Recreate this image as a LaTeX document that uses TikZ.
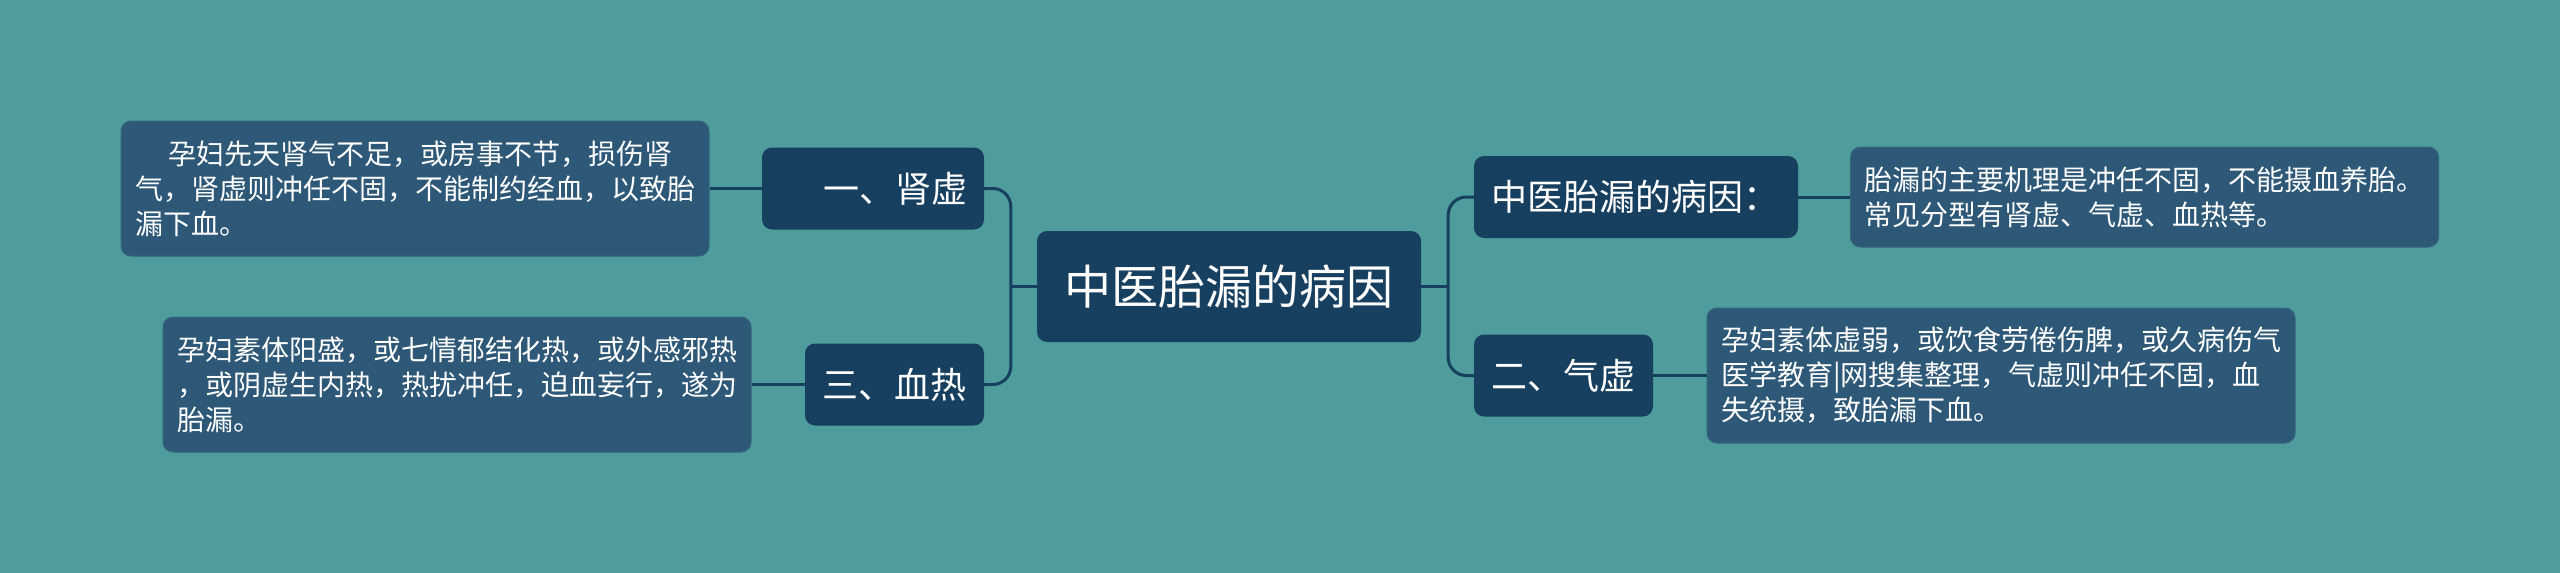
\documentclass[tikz,border=0pt]{standalone}
\usepackage{fontspec}
\setmainfont{Noto Sans CJK SC}
\definecolor{bg}{HTML}{4E9C9C}
\definecolor{navy}{HTML}{173F5F}
\definecolor{slate}{HTML}{2E5877}

\begin{document}
\begin{tikzpicture}[x=1pt,y=-1pt,
	link/.style={draw=navy,line width=3pt,rounded corners=18pt}]
		\tikzstyle{key}=[rectangle,rounded corners=10pt,fill=navy,text=white,inner xsep=17pt,inner ysep=0pt,minimum height=82pt,font=\fontsize{36}{40}\selectfont]
		\tikzstyle{info}=[rectangle,rounded corners=10pt,fill=slate,draw=slate!80!bg,line width=1pt,text=white,align=left,text width=560pt,inner xsep=14pt,inner ysep=0pt,minimum height=135pt,font=\fontsize{28}{35}\selectfont]
		\fill[bg] (0,0) rectangle (2560,573);
		\useasboundingbox (0,0) rectangle (2560,573);
		\node[key,minimum width=384pt,minimum height=111pt,font=\fontsize{47}{52}\selectfont] (root) at (1229,286.5) {中医胎漏的病因};
		% left side
		\node[key,text width=188pt,align=right] (k1) at (873,188.5) {一、肾虚};
		\node[key,minimum width=179pt] (k3) at (894.5,384.5) {三、血热};
		\node[info] (d1) at (415,188.5) {\hspace*{33pt}孕妇先天肾气不足，或房事不节，损伤肾\\气，肾虚则冲任不固，不能制约经血，以致胎\\漏下血。};
		\node[info] (d3) at (457,384.5) {孕妇素体阳盛，或七情郁结化热，或外感邪热\\，或阴虚生内热，热扰冲任，迫血妄行，遂为\\胎漏。};
		% right side
		\node[key,minimum width=324pt,align=left,text width=290pt] (k0) at (1636,197) {中医胎漏的病因：};
		\node[key,minimum width=179pt] (k2) at (1563.5,375.5) {二、气虚};
		\node[info,minimum height=100pt] (d0) at (2144.5,197) {胎漏的主要机理是冲任不固，不能摄血养胎。\\常见分型有肾虚、气虚、血热等。};
		\node[info] (d2) at (2001,375.5) {孕妇素体虚弱，或饮食劳倦伤脾，或久病伤气\\医学教育|网搜集整理，气虚则冲任不固，血\\失统摄，致胎漏下血。};
		\draw[link] (root.west) -- ++(-26,0) coordinate (lb);
		\draw[link] (k1.east) -| (lb) |- (k3.east);
		\draw[link] (root.east) -- ++(27,0) coordinate (rb);
		\draw[link] (k0.west) -| (rb) |- (k2.west);
		\draw[link] (d1.east) -- (k1.west);
		\draw[link] (d3.east) -- (k3.west);
		\draw[link] (k0.east) -- (d0.west);
		\draw[link] (k2.east) -- (d2.west);
	\end{tikzpicture}
\end{document}
